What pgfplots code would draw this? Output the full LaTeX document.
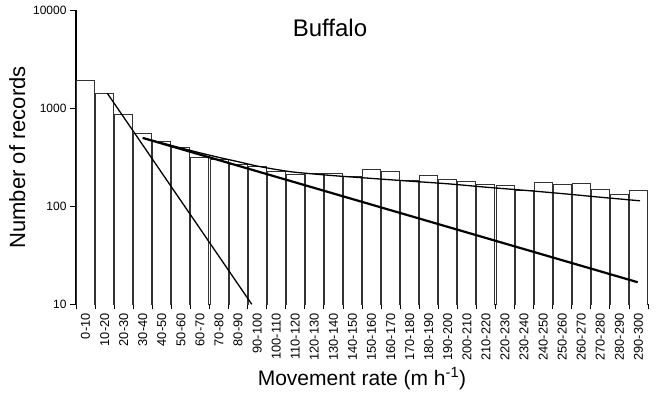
\documentclass[border=0pt]{standalone}
\usepackage{pgfplots}
\pgfplotsset{compat=1.18}
\usepackage{pgfplotstable}
\usepackage{fontspec}
\setmainfont{Liberation Sans}

\pgfplotstableread{
x y
0 1910
1 1430
2 865
3 556
4 463
5 396
6 316
7 302
8 268
9 253
10 228
11 210
12 215
13 215
14 201
15 240
16 229
17 185
18 205
19 189
20 181
21 169
22 164
23 145
24 177
25 166
26 172
27 149
28 133
29 144
}\bars

\pgfplotstableread{
x y
1.14 1430
8.72 10
}\lineA

\pgfplotstableread{
x y
3.0 500
28.96 16.8
}\lineB

\pgfplotstableread{
x y
3.0 500
4 445
5 395
6 352
7 316
8 286
9 258
10 238
11 223
13 206
15 193
17 181
19 170
21 157
23 146
25 135
27 124
29.08 114
}\lineC

\begin{document}
\begin{tikzpicture}
\useasboundingbox (-76bp,-89.7bp) rectangle (586bp,304.3bp);
\begin{axis}[
  at={(0,0)}, anchor=south west,
  scale only axis,
  width=572bp, height=293.8bp,
  xmin=-0.5, xmax=29.5,
  ymode=log, ymin=10, ymax=10000,
  ytick={10,100,1000,10000},
  yticklabels={10,100,1000,10000},
  yminorticks=false,
  xtick={0,...,29},
  xticklabels={0-10,10-20,20-30,30-40,40-50,50-60,60-70,70-80,80-90,90-100,100-110,110-120,120-130,130-140,140-150,150-160,160-170,170-180,180-190,190-200,200-210,210-220,220-230,230-240,240-250,250-260,260-270,270-280,280-290,290-300},
  minor xtick={-0.5,0.5,...,29.5},
  major x tick style={draw=none},
  minor x tick style={black, line width=0.8bp},
  major y tick style={black, line width=0.8bp},
  tick align=outside,
  major tick length=6bp,
  minor tick length=5bp,
  axis x line*=bottom,
  axis y line*=left,
  axis line style={black, line width=1.2bp},
  /pgf/number format/assume math mode=true,
  xticklabel style={rotate=90, anchor=east, inner sep=3bp, font=\fontsize{12.8bp}{14bp}\selectfont},
  yticklabel style={font=\fontsize{12bp}{14bp}\selectfont},
  xlabel={Movement rate (m h\textsuperscript{-1})},
  ylabel={Number of records},
  xlabel style={at={(axis description cs:0.5,-0.2747)}, anchor=base, font=\fontsize{21bp}{24bp}\selectfont},
  ylabel style={at={(axis description cs:-0.089,0.5)}, anchor=base, font=\fontsize{22bp}{26bp}\selectfont},
  title={Buffalo},
  title style={at={(axis description cs:0.444,0.892)}, anchor=base, font=\fontsize{24bp}{28bp}\selectfont},
  clip=true,
]
\addplot[ybar, bar width=18bp, fill=white, draw=black!80, line width=0.9bp] table[x=x,y=y] {\bars};
\addplot[black, line width=1.3bp] table[x=x,y=y] {\lineA};
\addplot[black, line width=2.2bp] table[x=x,y=y] {\lineB};
\addplot[black, line width=1.3bp, smooth] table[x=x,y=y] {\lineC};
\end{axis}
\end{tikzpicture}
\end{document}
